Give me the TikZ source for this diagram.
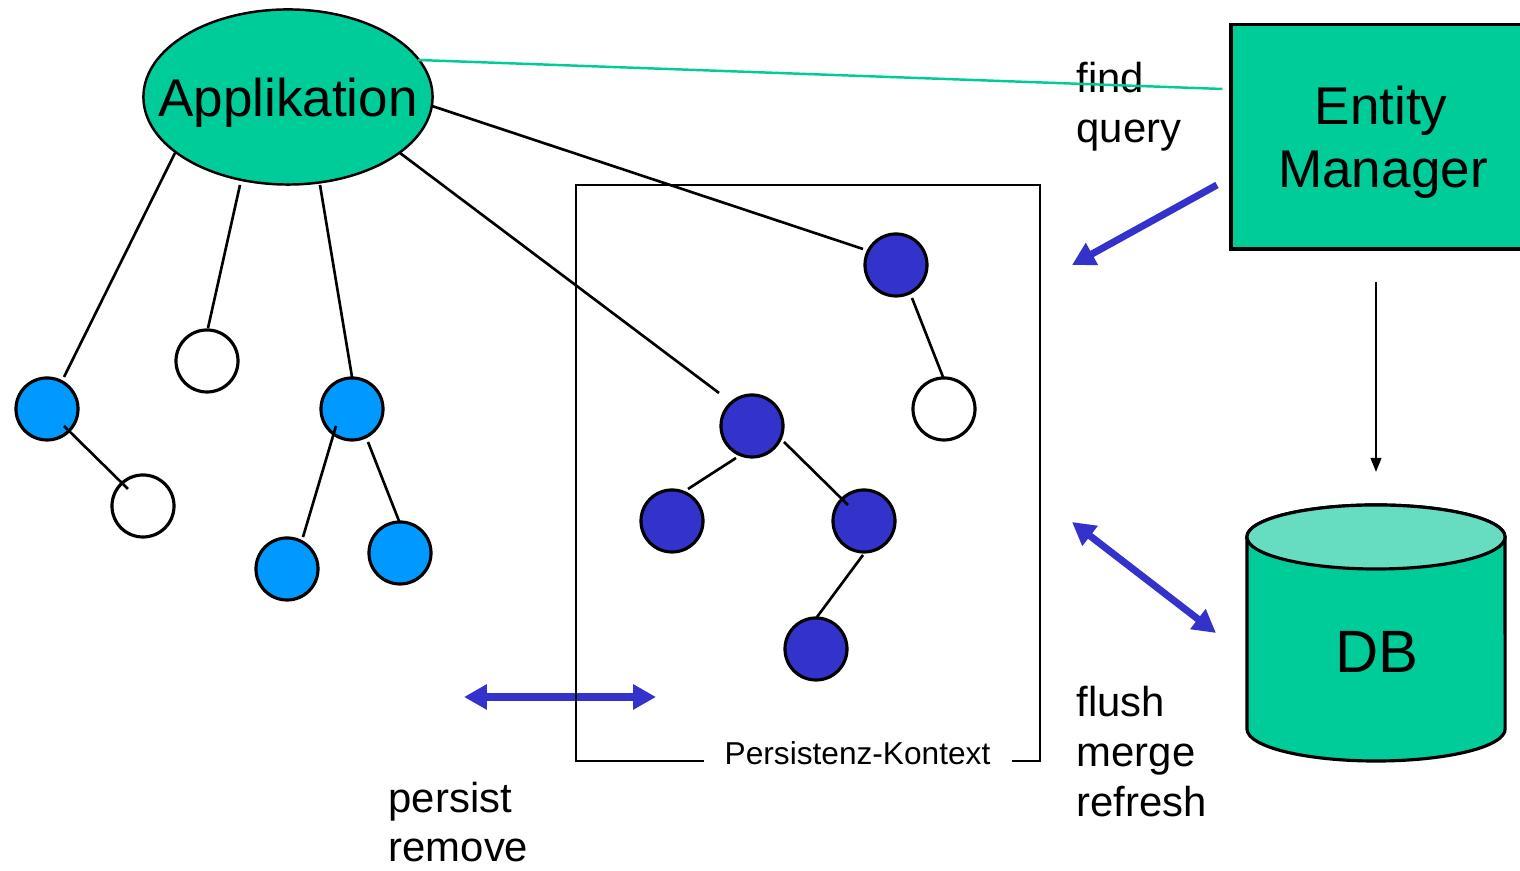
\documentclass[tikz,border=0pt]{standalone}
\usepackage{fontspec}
\setmainfont{Liberation Sans}
\usetikzlibrary{arrows.meta,calc,shapes.geometric}
\definecolor{emgreen}{HTML}{00CC99}
\definecolor{topgreen}{HTML}{66DDC0}
\definecolor{lblue}{HTML}{0099FF}
\definecolor{dblue}{HTML}{3333CC}
\begin{document}
\begin{tikzpicture}[x=0.01cm,y=-0.01cm,
  ent/.style={circle,draw=black,line width=0.9pt,minimum size=0.62cm,inner sep=0pt},
  lightent/.style={ent,fill=lblue},
  darkent/.style={ent,fill=dblue},
  whiteent/.style={ent,fill=white},
  tree/.style={line width=0.75pt},
  op/.style={font=\fontsize{11.9}{14}\selectfont,inner sep=0pt,anchor=base west},
  big/.style={font=\fontsize{15.1}{18}\selectfont,inner sep=0pt,anchor=base},
  bluearrow/.style={draw=dblue,line width=2pt,-{Triangle[length=6.5pt,width=6.8pt]}},
  bluedouble/.style={draw=dblue,line width=2pt,{Triangle[length=6.5pt,width=6.8pt]}-{Triangle[length=6.5pt,width=6.8pt]}},
]
\clip (0,0) rectangle (1520,871);
\fill[white] (0,0) rectangle (1520,871);

% Applikation
\node[ellipse,draw,line width=0.7pt,fill=emgreen,minimum width=2.89cm,minimum height=1.75cm,inner sep=0pt] (app) at (288,97) {};
\node[big] (apptxt) at (288,117) {Applikation};

% Entity Manager
\node[draw,line width=0.9pt,fill=emgreen,minimum width=2.94cm,minimum height=2.24cm,inner sep=0pt] (em) at (1378,137) {};
\node[big] (emtxt1) at (1381,125) {Entity};
\node[big] (emtxt2) at (1383,188) {Manager};

% operation labels
\node[op] (find) at (1076,93) {find};
\node[op] (query) at (1076,143) {query};
\node[op] (flush) at (1076,717) {flush};
\node[op] (merge) at (1076,767) {merge};
\node[op] (refresh) at (1076,817) {refresh};
\node[op] (persist) at (388,813) {persist};
\node[op] (remove) at (388,862) {remove};

% green line
\draw[emgreen,line width=0.7pt] ($(app)+(130,-37)$) -- ($(em.west)+(-7,-48)$);

% persist/remove arrow
\coordinate (psA) at (464,697);
\coordinate (psB) at (656,697);
\draw[bluedouble] (psA) -- (psB);

% Persistenz-Kontext box
\node[font=\fontsize{9}{11}\selectfont,inner sep=0pt,anchor=base west] (ctx) at (724,765) {Persistenz-Kontext};
\draw[line width=0.75pt] (704,761) -- (576,761) -- (576,185) -- (1040,185) -- (1040,761) -- (1012,761);

% entities
\node[lightent] (c1) at (47,409) {};
\node[whiteent] (w1) at (207,361) {};
\node[lightent] (c2) at (352,409) {};
\node[whiteent] (w2) at (143,506) {};
\node[lightent] (c3) at (287,569) {};
\node[lightent] (c4) at (400,553) {};
\node[darkent] (d1) at (896,265) {};
\node[whiteent] (w3) at (944,409) {};
\node[darkent] (d2) at (752,426) {};
\node[darkent] (d3) at (672,521) {};
\node[darkent] (d4) at (864,521) {};
\node[darkent] (d5) at (816,649) {};

% tree lines
\draw[tree] ($(app)+(-113,56)$) -- ($(c1)+(17,-32)$);
\draw[tree] ($(app)+(-48,88)$) -- ($(w1)+(1,-33)$);
\draw[tree] ($(app)+(32,88)$) -- ($(c2)+(0,-32)$);
\draw[tree] ($(app)+(112,56)$) -- ($(d2)+(-33,-33)$);
\draw[tree] ($(app)+(144,9)$) -- ($(d1)+(-33,-16)$);
\draw[tree] ($(c1)+(17,17)$) -- ($(w2)+(-15,-17)$);
\draw[tree] ($(c2)+(-16,17)$) -- ($(c3)+(16,-32)$);
\draw[tree] ($(c2)+(16,33)$) -- ($(c4)+(-1,-32)$);
\draw[tree] ($(d1)+(16,33)$) -- ($(w3)+(-1,-32)$);
\draw[tree] ($(d2)+(-16,32)$) -- ($(d3)+(16,-32)$);
\draw[tree] ($(d2)+(32,16)$) -- ($(d4)+(-16,-16)$);
\draw[tree] ($(d4)+(-1,34)$) -- ($(d5)+(1,-32)$);

% DB cylinder
\draw[line width=0.9pt,fill=emgreen] (1247,537) -- (1247,729) arc[start angle=180,end angle=360,x radius=1.29cm,y radius=0.32cm] -- (1505,537) arc[start angle=0,end angle=180,x radius=1.29cm,y radius=0.32cm] -- cycle;
\draw[line width=0.9pt,fill=topgreen] (1376,537) ellipse[x radius=1.29cm,y radius=0.32cm];
\node[font=\fontsize{17}{20}\selectfont,inner sep=0pt,anchor=base] (dbnode) at (1377,673) {DB};

% arrows
\coordinate (emA) at (1217,185);
\coordinate (emB) at (1072,265);
\draw[bluearrow] (emA) -- (emB);
\coordinate (dnA) at (1376,282);
\coordinate (dnB) at (1376,472);
\draw[line width=0.65pt,-{Triangle[length=4pt,width=3pt]}] (dnA) -- (dnB);
\coordinate (dbA) at (1072,522);
\coordinate (dbB) at (1216,633);
\draw[bluedouble] (dbA) -- (dbB);
\end{tikzpicture}
\end{document}
